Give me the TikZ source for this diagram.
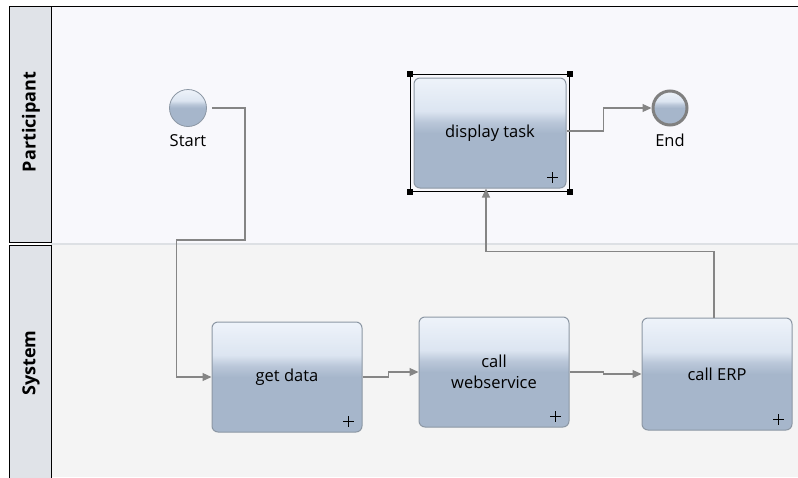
\documentclass[tikz,border=0pt]{standalone}
\usepackage{fontspec}
\setmainfont{Open Sans}
\usetikzlibrary{positioning, arrows.meta, calc, fit, backgrounds}

\definecolor{lanetop}{HTML}{F8F8FC}
\definecolor{lanebot}{HTML}{F4F4F4}
\definecolor{lanesep}{HTML}{DDE0E4}
\definecolor{headfill}{HTML}{E0E3E8}
\definecolor{flowgray}{HTML}{858585}
\definecolor{taskline}{HTML}{8C97A4}
\definecolor{tasktop}{HTML}{EEF3FA}
\definecolor{taskupper}{HTML}{DCE5F1}
\definecolor{taskmid}{HTML}{BAC7D9}
\definecolor{taskbot}{HTML}{A6B6CB}

% light top, steel blue bottom
\pgfdeclareverticalshading{taskshade}{100bp}{color(0bp)=(taskbot); color(25bp)=(taskbot);
  color(50bp)=(taskbot); color(55bp)=(taskmid); color(60bp)=(taskupper);
  color(75bp)=(tasktop); color(100bp)=(tasktop)}

\begin{document}
\begin{tikzpicture}[
    x=1pt, y=-1pt,
    >={Triangle[length=9pt, width=8pt]},
    flow/.style={
        ->,
        draw=flowgray,
        line width=1.2pt
    },
    task/.style={
        rectangle,
        rounded corners=6pt,
        shading=taskshade,
        draw=taskline,
        line width=1pt,
        minimum width=150pt,
        minimum height=110pt,
        align=center,
        font=\fontsize{16.5}{21}\selectfont
    },
    event/.style={
        circle,
        shading=taskshade,
        draw=taskline,
        line width=0.8pt,
        minimum size=37pt,
        inner sep=0pt
    },
    endevent/.style={
        event,
        draw=gray,
        line width=3pt,
        minimum size=34pt
    },
    evlabel/.style={
        font=\fontsize{16.5}{18}\selectfont,
        label distance=4pt
    },
    plusmark/.pic={
        \draw[line width=1.4pt] (-5.5,0) -- (5.5,0) (0,-5.5) -- (0,5.5);
    },
    lanelabel/.style={
        rotate=90,
        font=\bfseries\fontsize{18}{20}\selectfont
    },
    selframe/.style={
        draw=black,
        line width=1pt,
        inner sep=3pt
    },
    handle/.style={
        fill=black,
        minimum size=6pt,
        inner sep=0pt
    }
]

    \useasboundingbox (0,0) rectangle (798,477);

    % Pool and lanes
    \fill[white] (0,0) rectangle (798,477);
    \fill[lanetop] (51,6) rectangle (798,243);
    \fill[lanebot] (51,245) rectangle (798,477);
    \draw[lanesep, line width=2pt] (51,244) -- (798,244);
    \draw[line width=1pt, fill=headfill] (9,6) rectangle (51,242.5);
    \draw[line width=1pt, fill=headfill] (9,245.5) rectangle (51,480);
    \draw[line width=1pt] (9,6) -- (798,6);

    \node[lanelabel] (participant) at (31,122) {Participant};
    \node[lanelabel] (system) at (31,363) {System};

    % Participant lane
    \node[event, label={[evlabel]below:Start}] (start) at (188,108) {};
    \node[task, minimum width=152pt] (display) at (490,133) {display task};
    \node[endevent, label={[evlabel]below:End}] (end) at (670,108) {};

    % System lane
    \node[task] (getdata) at (287,377) {get data};
    \node[task] (webservice) at (494,372) {call\\webservice};
    \node[task, minimum height=112pt] (erp) at (717,374) {call ERP};

    % Sub-process markers
    \foreach \t in {display, getdata, webservice, erp}
        \pic at ($(\t.south east)+(-14,-11)$) {plusmark};

    % Selection around the display task
    \node[selframe, fit=(display)] (sel) {};
    \foreach \c in {north west, north east, south west, south east}
        \node[handle] at (sel.\c) {};

    % Sequence flows
    \draw[flow, shorten <=5pt] (start.east) -- ++(38,0) -- ++(0,132) -| ($(getdata.west)+(-35,0)$) -- (getdata.west);
    \draw[flow] (getdata.east) -- ++(26,0) |- (webservice.west);
    \draw[flow] (webservice.east) -- ++(34,0) |- (erp.west);
    \draw[flow] ($(erp.north)+(-3,0)$) -- ++(0,-66) -| ($(display.south)+(-4,0)$);
    \draw[flow] ($(display.east)+(0,-2)$) -- ++(37,0) |- (end.west);

\end{tikzpicture}
\end{document}
